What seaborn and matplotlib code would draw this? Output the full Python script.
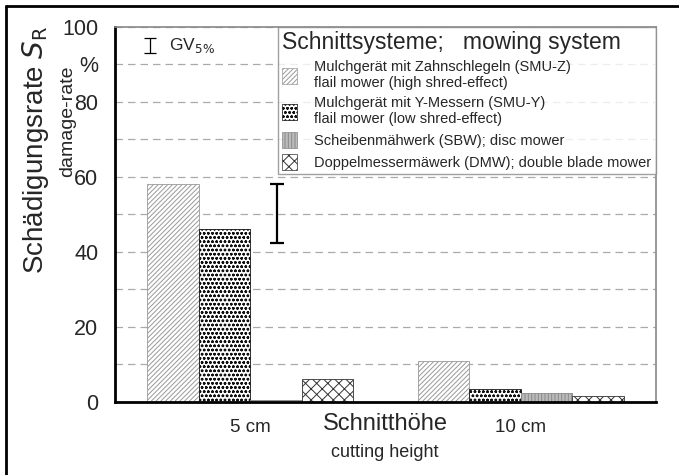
import numpy as np
import pandas as pd
import seaborn as sns
import matplotlib.pyplot as plt
from matplotlib.patches import Patch
from matplotlib.lines import Line2D

# data
heights = ['5 cm', '10 cm']
systems = ['SMU-Z', 'SMU-Y', 'SBW', 'DMW']
smu_z = [58.0, 11.0]
smu_y = [46.0, 3.5]
sbw = [0.5, 2.3]
dmw = [6.0, 1.6]
gv5_low = 42.5
gv5_high = 58.0

legend_labels = [
    'Mulchgerät mit Zahnschlegeln (SMU-Z)\nflail mower (high shred-effect)',
    'Mulchgerät mit Y-Messern (SMU-Y)\nflail mower (low shred-effect)',
    'Scheibenmähwerk (SBW); disc mower',
    'Doppelmessermäwerk (DMW); double blade mower',
]

df = pd.DataFrame({
    'height': heights * 4,
    'system': [s for s in systems for _ in heights],
    'rate': smu_z + smu_y + sbw + dmw,
})

sns.set_style('white')
plt.rcParams['font.family'] = ['Liberation Sans', 'DejaVu Sans']
plt.rcParams['hatch.linewidth'] = 0.7

fig = plt.figure(figsize=(6.79, 4.75), dpi=100)
ax = fig.add_axes([0.1694, 0.1537, 0.7967, 0.7895])

sns.barplot(data=df, x='height', y='rate', hue='system', order=heights,
            hue_order=systems, width=0.76, ax=ax, legend=False)

# hatch styles: face, edge(hatch) colour, hatch
styles = [
    ('white', '#999999', '///////'),
    ('white', '#111111', 'oooo'),
    ('#bbbbbb', '#888888', '|||||'),
    ('white', '#333333', 'xxx'),
]
for cont, (fc, ec, h) in zip(ax.containers, styles):
    for bar in cont:
        bar.set_facecolor(fc)
        bar.set_edgecolor(ec)
        bar.set_hatch(h)
        bar.set_linewidth(0.6)

ax.set_xlim(-0.5, 1.5)
ax.set_ylim(0, 100)

# grid every 10, labels at 20s plus "%"
ax.set_yticks(np.arange(0, 101, 10))
ax.set_yticklabels(['0', '', '20', '', '40', '', '60', '', '80', '%', '100'])
ax.yaxis.grid(True, linestyle=(0, (6, 4)), color='#aaaaaa', linewidth=0.9)
ax.set_axisbelow(True)
ax.tick_params(axis='y', length=10, color='#aaaaaa', labelsize=15.5, pad=2)
ax.tick_params(axis='x', length=8, color='#aaaaaa', labelsize=13.5, pad=4)
ax.set_xlabel('')
ax.set_ylabel('')

for side in ['left', 'bottom']:
    ax.spines[side].set_color('black')
    ax.spines[side].set_linewidth(2)
for side in ['top', 'right']:
    ax.spines[side].set_visible(True)
    ax.spines[side].set_color('#888888')
    ax.spines[side].set_linewidth(1.2)

# GV5% error bar
ax.errorbar([0.1], [(gv5_low + gv5_high) / 2], yerr=[(gv5_high - gv5_low) / 2],
            fmt='none', ecolor='black', elinewidth=1.6, capsize=5, capthick=1.6)
ax.errorbar([-0.37], [95], yerr=[2], fmt='none', ecolor='black',
            elinewidth=0.9, capsize=4, capthick=0.9)
ax.text(-0.3, 95, r'GV$_{5\%}$', fontsize=12.5, va='center', ha='left')

handles = [Patch(facecolor=fc, edgecolor=ec, hatch=h, linewidth=0.5)
           for fc, ec, h in styles]
leg = ax.legend(handles, legend_labels, loc='upper right', bbox_to_anchor=(1, 1),
                borderaxespad=0, frameon=True, fancybox=False, fontsize=10.5,
                title='Schnittsysteme;   mowing system', title_fontsize=16.5,
                alignment='left', handlelength=1.0, handleheight=1.3,
                handletextpad=1.2, labelspacing=0.4, borderpad=0.3)
leg.get_frame().set_edgecolor('#888888')
leg.get_frame().set_linewidth(1.0)

# axis titles
fig.text(0.052, 0.684, r'Schädigungsrate $\mathit{S}_\mathrm{R}$', rotation=90,
         fontsize=20, ha='center', va='center')
fig.text(0.100, 0.745, 'damage-rate', rotation=90, fontsize=14,
         ha='center', va='center')
fig.text(0.567, 0.108, 'Schnitthöhe', fontsize=17, ha='center', va='center')
fig.text(0.567, 0.048, 'cutting height', fontsize=13, ha='center', va='center')

# outer frame (left and top)
fig.add_artist(Line2D([0.009, 0.009], [0, 0.987], color='black', linewidth=2))
fig.add_artist(Line2D([0.009, 1.0], [0.987, 0.987], color='black', linewidth=2))

fig.savefig('out.png', dpi=100)
